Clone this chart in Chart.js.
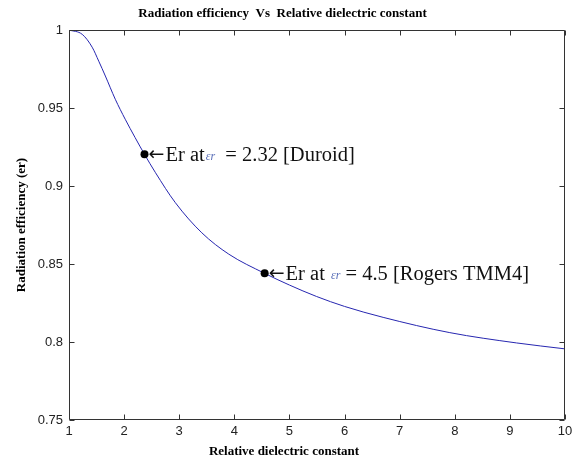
<!DOCTYPE html>
<html><head><meta charset="utf-8">
<script src="https://cdn.jsdelivr.net/npm/chart.js@4.4.1/dist/chart.umd.min.js"></script>
<style>html,body{margin:0;padding:0;background:#fff}</style>
</head><body>
<canvas id="c" width="578" height="463"></canvas>
<script>
const chartTitle = 'Radiation efficiency  Vs  Relative dielectric constant';
const xAxisTitle = 'Relative dielectric constant';
const yAxisTitle = 'Radiation efficiency (er)';

const permittivity = [1, 1.24, 1.42, 1.54, 1.66, 1.84, 2.02, 2.20, 2.37, 2.57, 2.93, 3.41, 3.90, 4.55, 5.0, 5.49, 6.0, 6.70, 7.91, 9.12, 10];
const efficiency   = [1, 0.9972, 0.9890, 0.9800, 0.9705, 0.9556, 0.9428, 0.9310, 0.9203, 0.9085, 0.8893, 0.8700, 0.8563, 0.8440, 0.8365, 0.8292, 0.8228, 0.8158, 0.8060, 0.7994, 0.7956];

const markerPermittivity = [2.37, 4.55];
const markerEfficiency   = [0.9203, 0.8440];
const markerArrow = '\u2190';
const markerTextBefore = ['Er at', 'Er at '];
const markerSymbol = '\u03b5r';
const markerTextAfter  = ['  = 2.32 [Duroid]', ' = 4.5 [Rogers TMM4]'];

const xTicks = [1, 2, 3, 4, 5, 6, 7, 8, 9, 10];
const yTicks = [0.75, 0.8, 0.85, 0.9, 0.95, 1];

const AXIS_COLOR = '#333333';

const framePlugin = {
  id: 'frame',
  afterDatasetsDraw(chart) {
    const ctx = chart.ctx, a = chart.chartArea;
    const xs = chart.scales.x, ys = chart.scales.y;
    ctx.save();
    ctx.strokeStyle = AXIS_COLOR;
    ctx.lineWidth = 1;
    const L = Math.round(a.left) + 0.5, R = Math.round(a.right) - 0.5;
    const T = Math.round(a.top) + 0.5, B = Math.round(a.bottom) - 0.5;
    ctx.beginPath();
    ctx.rect(L, T, R - L, B - T);
    const len = 5;
    xTicks.forEach(v => {
      const px = Math.round(xs.getPixelForValue(v)) + 0.5;
      ctx.moveTo(px, B); ctx.lineTo(px, B - len);
      ctx.moveTo(px, T); ctx.lineTo(px, T + len);
    });
    yTicks.forEach(v => {
      const py = Math.round(ys.getPixelForValue(v)) + 0.5;
      ctx.moveTo(L, py); ctx.lineTo(L + len, py);
      ctx.moveTo(R, py); ctx.lineTo(R - len, py);
    });
    ctx.stroke();

    // annotations
    ctx.textBaseline = 'alphabetic';
    markerPermittivity.forEach((mx, i) => {
      const px = xs.getPixelForValue(mx);
      const py = ys.getPixelForValue(markerEfficiency[i]);
      let x = px + 4;
      const y = py + 7;
      ctx.fillStyle = '#111';
      ctx.font = '19px "DejaVu Sans"';
      ctx.fillText(markerArrow, x, y - 1);
      x += ctx.measureText(markerArrow).width + 1;
      ctx.font = '20.5px "Liberation Serif"';
      ctx.fillText(markerTextBefore[i], x, y);
      x += ctx.measureText(markerTextBefore[i]).width + 1;
      ctx.font = 'italic 12px "Liberation Serif"';
      ctx.fillStyle = '#5a6fb8';
      ctx.fillText(markerSymbol, x, y - 1);
      x += ctx.measureText(markerSymbol).width;
      ctx.font = '20.5px "Liberation Serif"';
      ctx.fillStyle = '#111';
      ctx.fillText(markerTextAfter[i], x, y);
    });

    // x-axis title
    ctx.font = 'bold 13px "Liberation Serif"';
    ctx.fillStyle = '#000';
    ctx.textAlign = 'center';
    ctx.textBaseline = 'middle';
    ctx.fillText(xAxisTitle, 284, 452);
    ctx.restore();
  }
};

new Chart(document.getElementById('c'), {
  type: 'scatter',
  data: {
    datasets: [
      {
        data: permittivity.map((x, i) => ({x, y: efficiency[i]})),
        showLine: true,
        borderColor: '#2626b0',
        borderWidth: 1,
        pointRadius: 0,
        cubicInterpolationMode: 'monotone',
        order: 2
      },
      {
        data: markerPermittivity.map((x, i) => ({x, y: markerEfficiency[i]})),
        showLine: false,
        pointRadius: 4,
        pointBackgroundColor: '#000',
        pointBorderColor: '#000',
        pointBorderWidth: 0,
        order: 1
      }
    ]
  },
  options: {
    responsive: false,
    animation: false,
    devicePixelRatio: 1,
    layout: { padding: { left: 0, right: 13, top: 0, bottom: 0 } },
    plugins: {
      legend: { display: false },
      tooltip: { enabled: false },
      title: {
        display: true,
        text: chartTitle,
        color: '#000',
        font: { family: '"Liberation Serif"', size: 13, weight: 'bold' },
        padding: { top: 6, bottom: 8.4 }
      }
    },
    scales: {
      x: {
        type: 'linear',
        min: 1, max: 10,
        afterBuildTicks(s) { s.ticks = xTicks.map(v => ({value: v})); },
        afterFit(s) { s.height = 43; },
        grid: { display: false, drawTicks: false },
        border: { display: false },
        ticks: {
          color: '#222',
          font: { family: '"Liberation Sans"', size: 13 },
          padding: 4,
          maxRotation: 0,
          autoSkip: false
        }
      },
      y: {
        type: 'linear',
        min: 0.75, max: 1,
        afterBuildTicks(s) { s.ticks = yTicks.map(v => ({value: v})); },
        afterFit(s) { s.width = 69; },
        grid: { display: false, drawTicks: false },
        border: { display: false },
        title: {
          display: true,
          text: yAxisTitle,
          color: '#000',
          font: { family: '"Liberation Serif"', size: 13, weight: 'bold' },
          padding: { top: 14, bottom: 0 }
        },
        ticks: {
          color: '#222',
          font: { family: '"Liberation Sans"', size: 13 },
          padding: 6,
          autoSkip: false,
          callback: v => String(parseFloat(Number(v).toFixed(2)))
        }
      }
    }
  },
  plugins: [framePlugin]
});
</script>
</body></html>
